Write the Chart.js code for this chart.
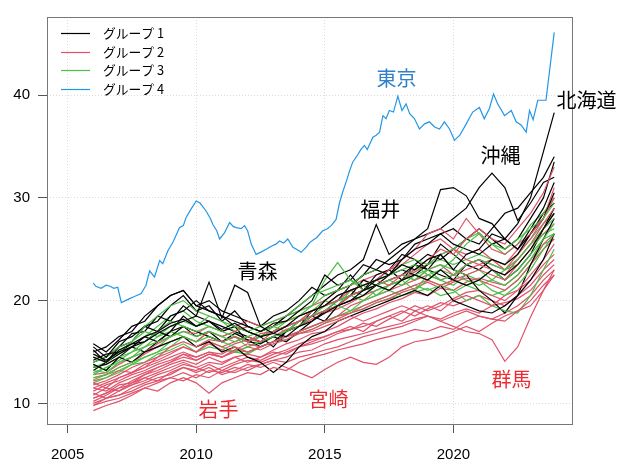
<!DOCTYPE html>
<html><head><meta charset="utf-8">
<script src="https://cdn.jsdelivr.net/npm/chart.js@4"></script>
<style>html,body{margin:0;padding:0;background:#fff}canvas{display:block}</style>
</head><body>
<canvas id="c" width="619" height="459"></canvas>
<script>
// ---- data ----
const years = [2006.0,2006.5,2007.0,2007.5,2008.0,2008.5,2009.0,2009.5,2010.0,2010.5,2011.0,2011.5,2012.0,2012.5,2013.0,2013.5,2014.0,2014.5,2015.0,2015.5,2016.0,2016.5,2017.0,2017.5,2018.0,2018.5,2019.0,2019.5,2020.0,2020.5,2021.0,2021.5,2022.0,2022.5,2023.0,2023.5,2023.92];
const xTicks = [2005, 2010, 2015, 2020];
const yTicks = [10, 20, 30, 40];
const groupNames = ['グループ 1', 'グループ 2', 'グループ 3', 'グループ 4'];

const tokyoYears = [2006.0,2006.1,2006.3,2006.5,2006.65,2006.8,2006.95,2007.09,2007.25,2007.41,2007.6,2007.86,2008.05,2008.19,2008.38,2008.58,2008.7,2008.9,2009.1,2009.35,2009.5,2009.61,2009.8,2010.0,2010.15,2010.39,2010.55,2010.65,2010.8,2010.91,2011.1,2011.3,2011.45,2011.56,2011.75,2011.88,2012.0,2012.14,2012.33,2012.5,2012.72,2012.92,2013.1,2013.24,2013.4,2013.56,2013.76,2013.9,2014.08,2014.28,2014.41,2014.6,2014.67,2014.92,2015.1,2015.25,2015.44,2015.57,2015.7,2015.85,2015.96,2016.09,2016.28,2016.4,2016.54,2016.65,2016.87,2017.0,2017.13,2017.26,2017.38,2017.51,2017.67,2017.84,2018.0,2018.16,2018.3,2018.49,2018.68,2018.88,2019.07,2019.27,2019.46,2019.65,2019.85,2020.04,2020.25,2020.5,2020.75,2021.01,2021.2,2021.4,2021.56,2021.72,2021.99,2022.25,2022.44,2022.63,2022.83,2022.96,2023.1,2023.28,2023.6,2023.92];
const tokyo = [21.7,21.4,21.2,21.5,21.4,21.2,21.3,19.8,20.0,20.2,20.4,20.7,21.5,22.9,22.3,23.9,23.6,24.85,25.7,27.1,27.3,28.1,28.9,29.7,29.5,28.7,28.0,27.4,26.8,26.0,26.6,27.6,27.2,27.1,27.0,27.3,26.8,25.5,24.5,24.7,25.0,25.3,25.5,25.8,25.6,26.0,25.2,25.0,24.7,25.2,25.65,26.0,26.1,26.8,27.0,27.3,27.9,29.5,30.6,31.7,32.6,33.5,34.2,34.7,35.1,34.7,35.9,36.1,36.4,38.0,37.7,38.5,38.35,39.9,38.5,39.15,38.2,37.7,36.7,37.2,37.4,36.9,36.7,37.4,36.7,35.6,36.1,37.2,38.35,38.8,37.7,38.7,40.1,39.15,38.0,38.5,37.4,37.1,36.4,38.5,37.6,39.5,39.5,46.1];

// group 1 (black)
const hokkaido = [14.5,14.0,15.2,15.8,16.5,17.0,17.8,18.2,17.5,18.0,17.2,17.8,17.0,16.5,16.8,17.5,18.5,19.0,19.5,20.5,21.0,21.5,22.0,22.5,23.5,23.0,24.0,24.5,23.0,24.5,25.0,26.5,26.0,27.5,30.0,34.5,38.3];
const okinawa = [13.5,13.8,14.5,15.5,15.0,16.0,17.0,17.5,16.5,17.0,16.0,16.5,16.0,15.8,16.5,17.0,18.0,18.5,19.0,20.0,21.5,22.5,23.0,24.0,25.0,26.0,26.5,27.0,28.0,29.0,31.0,32.4,31.0,27.8,29.5,31.5,32.0];
const fukui = [15.5,14.5,16.0,16.5,17.5,18.0,19.5,20.5,19.0,19.5,18.0,19.0,17.5,17.0,17.5,18.5,19.5,20.5,21.5,22.5,23.0,24.0,27.4,24.5,25.5,26.0,27.0,30.8,31.0,30.2,28.0,27.5,26.0,25.0,26.5,28.0,30.5];
const aomori = [14.8,14.2,15.0,15.5,16.0,16.8,17.5,18.0,18.5,21.8,18.3,21.5,20.8,17.5,16.8,16.5,17.5,18.0,18.8,19.5,20.0,21.0,21.5,21.0,22.0,22.5,22.0,23.0,22.0,21.5,22.0,23.0,22.5,23.5,25.0,27.0,28.5];
const black5 = [15.0,15.5,16.5,17.0,18.5,19.5,20.5,21.0,19.5,19.0,18.5,18.0,17.5,17.0,17.8,18.0,19.0,20.0,22.5,21.5,22.0,23.5,23.0,22.5,24.0,25.0,25.5,26.5,25.5,25.0,24.5,25.5,26.0,25.0,27.0,29.0,31.5];
const black6 = [13.8,13.2,14.5,14.0,15.0,15.5,16.0,16.5,15.5,16.0,15.0,15.5,14.5,14.0,13.0,14.0,15.5,16.5,17.0,18.0,18.5,19.0,19.5,20.0,20.5,21.0,20.5,21.5,20.0,19.5,19.0,18.8,19.5,20.5,22.0,24.0,26.5];
const black7 = [14.2,14.8,15.0,15.8,16.0,17.0,16.5,17.5,17.0,16.5,16.0,16.8,16.2,15.5,16.0,17.0,17.5,18.5,18.0,19.5,20.0,20.5,21.5,22.0,22.5,23.5,23.0,24.5,23.0,22.5,21.0,20.0,18.8,20.5,23.5,26.0,28.0];
const black8 = [15.2,14.0,15.5,16.8,17.0,18.5,18.0,19.5,18.5,18.0,17.5,17.0,16.5,16.0,16.5,16.0,17.0,18.0,19.0,19.5,20.5,22.0,21.5,22.5,23.0,22.5,23.5,25.5,24.5,23.5,23.0,24.0,23.5,24.5,26.5,28.5,29.5];
const black9 = [13.2,14.0,14.8,15.5,16.5,16.0,17.0,18.5,17.5,18.0,17.0,17.5,17.0,16.5,17.0,17.5,18.0,18.5,20.0,21.0,22.5,21.0,22.0,23.0,22.0,23.5,24.5,24.0,25.0,26.0,27.0,26.0,25.0,26.0,28.0,30.0,33.5];
const black10 = [14.0,14.5,15.5,16.0,17.5,17.0,18.5,19.0,20.0,19.0,18.5,17.5,16.0,16.5,15.5,17.0,17.5,19.0,19.5,20.0,20.5,21.0,22.5,23.0,24.5,24.0,23.0,22.5,22.0,23.5,24.0,23.0,22.0,23.0,24.5,27.0,29.0];
const black11 = [15.8,15.0,16.2,17.5,18.0,19.5,20.5,21.0,19.5,20.0,19.0,18.5,18.0,17.5,18.5,19.0,20.0,21.3,20.5,21.0,21.5,22.5,24.0,23.5,24.0,25.5,26.0,26.5,27.0,26.0,25.5,27.0,28.5,29.0,30.5,32.0,34.0];

// group 2 (red)
const iwate = [9.3,9.8,10.2,10.8,11.5,11.2,12.0,12.5,12.0,11.0,12.0,12.5,13.0,12.8,13.5,13.2,14.0,14.5,14.8,15.2,15.5,15.8,16.2,16.5,16.8,17.2,17.0,17.5,17.2,18.0,18.5,18.2,18.0,19.0,20.0,21.5,22.5];
const miyazaki = [9.8,10.5,10.8,11.5,12.0,12.5,12.8,13.5,13.0,13.5,12.8,13.2,13.8,13.5,14.0,13.5,13.0,12.5,13.3,14.0,14.5,14.0,13.8,14.5,15.5,16.0,16.2,16.5,17.0,17.5,17.0,17.8,18.5,19.0,19.5,21.0,22.5];
const gunma = [11.5,12.0,12.5,13.0,13.5,14.0,14.5,15.0,14.5,15.0,14.8,15.5,15.0,15.5,16.0,16.5,16.8,17.0,17.5,18.0,18.5,18.0,18.5,19.0,19.5,19.0,18.5,18.0,17.5,17.0,16.8,16.2,14.1,15.5,18.4,21.0,23.0];
const red4 = [10.5,11.0,11.8,12.0,12.8,13.5,14.0,14.8,14.5,15.0,14.5,15.2,15.8,15.5,16.0,16.5,17.0,17.5,18.0,18.5,18.8,19.5,20.0,20.5,21.0,21.5,22.0,21.5,22.0,22.5,23.0,22.5,22.0,23.5,25.0,27.0,28.5];
const red5 = [11.8,12.2,12.8,13.5,14.0,14.5,15.5,16.0,15.5,16.2,16.0,16.5,16.0,16.8,17.0,17.5,18.0,18.5,19.0,19.5,20.5,21.0,21.5,22.0,22.5,23.0,24.0,25.0,24.5,26.0,27.0,26.0,25.5,27.0,28.5,30.5,33.0];
const red6 = [12.0,11.5,12.5,13.0,13.5,14.5,15.0,15.5,15.0,16.0,15.5,16.0,16.5,16.0,17.0,17.5,18.0,19.0,19.5,20.0,21.0,21.5,22.0,23.0,24.0,25.0,26.5,27.0,26.0,28.0,26.5,25.0,24.5,25.5,26.5,28.0,30.0];
const red7 = [10.8,11.5,11.2,12.0,12.5,13.0,13.5,14.0,13.5,14.0,13.8,14.5,14.0,14.5,15.0,14.8,15.5,16.0,16.5,17.0,17.5,17.0,18.0,18.5,18.0,19.0,19.5,19.0,20.0,20.5,20.0,19.5,20.5,21.0,22.5,24.0,25.5];
const red8 = [12.5,12.8,13.5,14.0,14.8,15.5,16.0,16.5,16.0,17.0,16.5,17.0,17.5,17.0,17.5,18.0,18.5,19.0,19.5,20.5,21.0,21.5,22.0,21.5,22.5,22.0,23.0,23.5,22.5,23.0,23.5,23.0,22.5,24.0,25.5,27.5,29.0];
const red9 = [10.2,10.8,11.5,11.8,12.2,12.8,13.2,13.8,13.5,13.0,13.5,14.0,14.5,14.2,14.8,15.2,15.8,16.2,16.5,17.0,17.2,17.5,18.0,18.5,19.0,18.5,19.2,19.8,19.5,20.0,20.5,20.0,19.5,20.5,21.5,23.0,24.0];
const red10 = [11.2,11.8,12.2,12.8,13.2,13.8,14.2,14.8,14.2,14.8,14.5,15.0,15.5,15.2,15.8,16.2,16.8,17.2,17.8,18.2,18.8,19.2,19.8,20.2,20.8,21.2,21.8,21.2,21.8,22.2,22.0,21.5,21.0,22.0,23.5,25.0,26.0];
const red11 = [11.0,10.5,11.2,11.8,12.5,12.2,13.0,13.5,13.2,13.8,13.2,13.8,14.2,14.0,14.5,15.0,15.5,15.8,16.2,16.8,17.2,17.8,17.5,18.2,18.8,19.5,19.0,19.5,20.2,20.8,21.0,20.5,20.0,21.0,22.0,23.5,24.5];
const red12 = [12.2,12.5,13.2,13.0,13.8,14.2,14.8,15.5,15.0,15.8,15.2,15.8,16.2,16.0,16.5,17.2,17.5,18.2,18.8,19.2,19.8,20.5,21.0,21.5,22.0,22.8,23.5,24.5,25.0,24.0,23.5,24.0,23.0,24.5,26.0,28.0,31.0];
const red13 = [10.0,10.5,10.8,11.2,11.8,12.2,12.5,13.0,12.5,13.2,13.0,13.5,13.2,13.8,14.2,14.5,15.0,15.2,15.8,16.2,16.5,16.8,17.2,17.5,17.8,18.2,18.5,18.0,18.5,19.0,18.5,18.2,18.8,19.5,20.5,22.0,23.0];
const red14 = [11.5,11.2,12.0,12.5,13.0,13.5,14.0,14.5,14.2,14.8,14.5,15.2,15.0,15.5,16.0,16.5,17.0,17.5,18.0,18.5,19.5,20.0,20.5,21.0,21.5,22.0,22.5,22.0,22.5,23.5,24.0,23.5,23.0,24.0,25.5,26.5,27.5];
const red15 = [10.5,11.0,11.5,12.2,12.8,13.2,13.8,14.2,13.8,14.5,14.0,14.5,14.8,14.5,15.2,15.8,16.2,16.8,17.0,17.5,18.2,18.8,19.2,19.8,20.2,20.8,20.5,21.2,21.0,21.8,22.2,21.8,21.5,22.5,24.0,25.5,26.5];
const red16 = [12.8,13.0,13.8,14.5,15.0,15.8,16.5,17.0,16.8,17.5,17.0,17.5,18.0,17.5,18.0,18.5,19.0,19.5,20.0,21.0,21.5,22.0,22.5,23.0,23.5,24.5,25.5,26.0,25.0,24.5,25.0,24.0,23.5,25.0,26.5,28.5,30.0];
const red17 = [9.8,10.2,10.5,11.0,11.5,12.0,12.5,12.2,12.8,12.5,13.2,13.0,13.5,13.8,14.2,14.0,14.5,14.8,15.2,15.5,16.0,16.5,16.8,17.2,17.5,18.0,18.5,18.2,18.8,19.2,18.8,19.5,19.8,20.2,21.0,22.5,23.5];

// group 3 (green)
const green1 = [14.5,14.0,15.0,16.0,17.5,18.5,19.5,20.0,19.0,18.5,18.0,17.5,17.0,17.5,18.0,18.5,19.5,20.5,21.0,21.5,22.0,21.5,22.0,22.5,23.0,23.5,22.5,23.0,24.0,25.5,26.5,25.5,25.0,26.0,27.0,28.0,29.5];
const green2 = [13.0,13.5,14.0,14.5,15.5,16.0,16.5,17.0,16.5,17.0,16.5,16.0,16.5,17.0,17.5,18.0,18.5,19.5,22.0,23.7,22.0,21.0,21.5,22.0,21.5,22.5,23.0,22.0,22.5,23.5,24.0,23.5,23.0,24.0,25.5,27.0,28.0];
const green3 = [12.5,12.8,13.5,14.0,14.5,15.0,15.5,16.5,16.0,16.5,16.0,15.5,15.0,15.5,16.0,16.5,17.0,17.5,18.0,18.5,19.0,19.5,20.0,20.5,21.0,21.5,21.0,21.5,22.0,21.5,22.0,21.0,20.5,21.5,23.0,25.0,26.5];
const green4 = [13.8,13.2,14.5,15.0,16.0,17.0,18.0,17.5,17.0,17.5,17.0,16.5,16.0,16.5,17.0,17.5,18.0,18.5,19.0,20.0,20.5,21.0,21.5,22.0,22.5,22.0,23.0,23.5,23.0,22.5,23.0,22.0,21.5,22.5,24.0,26.0,27.5];
const green5 = [12.0,12.5,13.0,13.8,14.5,15.0,16.0,16.5,15.5,16.0,15.5,15.0,15.5,16.0,16.5,17.0,17.5,18.5,19.0,19.5,19.0,20.0,20.5,21.0,20.5,21.0,22.0,21.5,21.0,20.0,20.5,19.5,19.0,18.8,20.5,23.0,25.0];
const green6 = [14.0,14.5,15.5,16.0,17.0,16.5,17.5,18.0,17.5,18.5,18.0,17.0,17.5,17.0,17.5,18.5,19.0,19.5,20.5,21.0,21.5,22.5,23.0,22.5,23.5,24.0,23.5,24.5,25.0,26.0,26.6,25.5,24.5,25.5,27.4,28.5,30.0];
const green7 = [13.2,13.0,14.0,14.5,15.0,15.5,16.5,17.5,17.0,16.5,16.0,16.5,15.5,16.0,16.5,17.0,18.0,18.5,19.5,20.0,20.5,20.0,21.0,21.5,22.0,22.5,22.0,23.0,22.5,22.0,21.5,22.0,23.0,23.5,25.0,26.5,27.0];
const green8 = [12.8,13.5,14.2,15.0,15.5,16.5,17.0,16.5,16.0,17.0,16.5,17.0,16.0,16.5,17.5,17.0,18.0,19.0,20.0,19.5,21.0,21.5,20.5,21.5,22.0,21.0,22.5,22.0,21.5,22.5,22.0,23.0,22.0,23.0,24.5,26.0,26.5];
const green9 = [13.5,14.0,14.8,15.5,16.5,17.5,18.5,19.0,18.0,17.5,17.0,17.5,17.0,16.5,17.0,18.0,18.5,19.0,19.5,20.5,21.0,20.5,21.5,21.0,22.0,23.0,23.5,24.0,23.5,24.0,24.5,24.0,23.5,24.5,26.0,27.5,28.5];
const green10 = [12.3,12.8,13.2,13.8,14.0,14.8,15.2,15.8,15.0,15.5,15.2,15.0,14.8,15.5,16.0,16.2,16.8,17.2,17.8,18.5,18.8,19.2,19.8,20.2,20.5,20.8,21.2,20.5,20.8,21.5,21.0,20.5,21.0,22.0,23.5,25.5,26.0];

const colors = ['#000000', '#DF536B', '#4cbf45', '#2297E6'];
// drawing order (prefecture-like interleaving); group index + series
const seriesList = [
  [0, hokkaido], [0, aomori], [1, iwate], [2, green1], [1, red4], [0, black5], [2, green2],
  [1, red5], [1, gunma], [2, green3], [0, black6], [1, red6], [2, green4], [3, null],
  [1, red7], [0, fukui], [2, green5], [1, red8], [0, black7], [2, green6], [1, red9],
  [1, red10], [0, black8], [2, green7], [1, red11], [1, red12], [0, black9], [2, green8],
  [1, red13], [1, red14], [0, black10], [2, green9], [1, red15], [1, red16], [0, black11],
  [2, green10], [1, red17], [1, miyazaki], [0, okinawa]
];

const labels = [
  { text: '東京', x: 2017.79, y: 41.6, color: '#2f80c8' },
  { text: '北海道', x: 2025.17, y: 39.5, color: '#000000' },
  { text: '沖縄', x: 2021.83, y: 34.1, color: '#000000' },
  { text: '福井', x: 2017.16, y: 28.9, color: '#000000' },
  { text: '青森', x: 2012.38, y: 22.8, color: '#000000' },
  { text: '岩手', x: 2010.87, y: 9.42, color: '#f02830' },
  { text: '宮崎', x: 2015.14, y: 10.4, color: '#f02830' },
  { text: '群馬', x: 2022.26, y: 12.3, color: '#f02830' }
];

// ---- build datasets ----
const datasets = seriesList.map(([g, vals]) => {
  const xs = g === 3 ? tokyoYears : years;
  const vs = g === 3 ? tokyo : vals;
  return {
    data: vs.map((v, i) => ({ x: xs[i], y: v })),
    borderColor: colors[g], borderWidth: 1.2, pointRadius: 0, showLine: true,
    fill: false, tension: 0
  };
});

const overlay = {
  id: 'overlay',
  beforeDraw(chart) {
    const c = chart.ctx;
    c.save(); c.fillStyle = '#fff'; c.fillRect(0, 0, chart.width, chart.height); c.restore();
  },
  afterDraw(chart) {
    const c = chart.ctx, a = chart.chartArea, xs = chart.scales.x, ys = chart.scales.y;
    c.save();
    // box
    c.strokeStyle = '#777'; c.lineWidth = 1;
    c.strokeRect(a.left + 0.5, a.top + 0.5, a.right - a.left - 1, a.bottom - a.top - 1);
    // legend
    c.font = '13px "Noto Sans CJK JP", sans-serif';
    c.textBaseline = 'middle'; c.textAlign = 'left';
    groupNames.forEach((n, i) => {
      const yy = 33 + i * 18.6;
      c.strokeStyle = colors[i]; c.lineWidth = 1.2;
      c.beginPath(); c.moveTo(61, Math.round(yy) + 0.5); c.lineTo(90, Math.round(yy) + 0.5); c.stroke();
      c.fillStyle = '#000'; c.fillText(n, 103, yy, 61);
    });
    // annotations
    c.font = '20px "Noto Sans CJK JP", sans-serif';
    c.textAlign = 'center';
    labels.forEach(l => {
      c.fillStyle = l.color;
      c.fillText(l.text, xs.getPixelForValue(l.x), ys.getPixelForValue(l.y));
    });
    c.restore();
  }
};

new Chart(document.getElementById('c'), {
  type: 'scatter',
  data: { datasets },
  options: {
    responsive: false, animation: false, devicePixelRatio: 1,
    layout: { padding: { top: 14, right: 46, left: 0, bottom: 0 } },
    plugins: { legend: { display: false }, tooltip: { enabled: false } },
    scales: {
      x: {
        type: 'linear', min: 2004.2, max: 2024.65,
        afterBuildTicks: s => { s.ticks = xTicks.map(v => ({ value: v })); },
        afterFit: s => { s.height = 34; },
        grid: { color: '#dcdcdc', tickColor: '#555', tickLength: 8, drawTicks: true },
        border: { display: false, dash: [1, 2] },
        ticks: { color: '#000', font: { size: 15, family: '"Liberation Sans", sans-serif' }, padding: 13, maxRotation: 0, callback: v => String(v) }
      },
      y: {
        type: 'linear', min: 7.9, max: 47.6,
        afterBuildTicks: s => { s.ticks = yTicks.map(v => ({ value: v })); },
        afterFit: s => { s.width = 47; },
        grid: { color: '#dcdcdc', tickColor: '#555', tickLength: 9, drawTicks: true },
        border: { display: false, dash: [1, 2] },
        ticks: { color: '#000', font: { size: 15, family: '"Liberation Sans", sans-serif' }, padding: 8, callback: v => String(v) }
      }
    }
  },
  plugins: [overlay]
});
</script>
</body></html>
